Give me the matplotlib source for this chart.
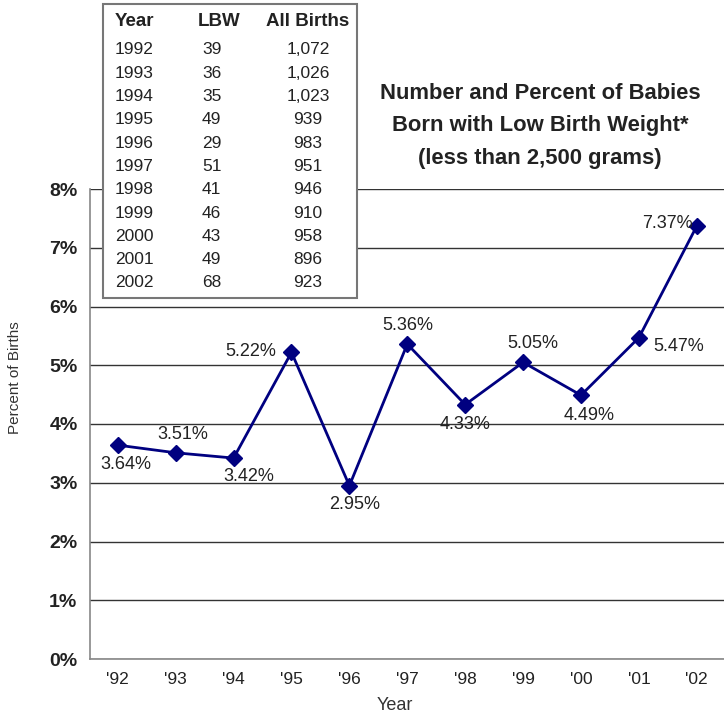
import matplotlib
matplotlib.use("Agg")
import matplotlib.pyplot as plt
from matplotlib.patches import Rectangle

plt.rcParams['font.family'] = ['Liberation Sans', 'DejaVu Sans']

# data
years = ['1992', '1993', '1994', '1995', '1996', '1997', '1998', '1999', '2000', '2001', '2002']
tick_labels = ["'92", "'93", "'94", "'95", "'96", "'97", "'98", "'99", "'00", "'01", "'02"]
lbw = ['39', '36', '35', '49', '29', '51', '41', '46', '43', '49', '68']
all_births = ['1,072', '1,026', '1,023', '939', '983', '951', '946', '910', '958', '896', '923']
pct = [3.64, 3.51, 3.42, 5.22, 2.95, 5.36, 4.33, 5.05, 4.49, 5.47, 7.37]

# label offsets in pixels
offs = [(8, -19), (7, 18), (15, -18), (-41, 1), (5, -19), (1, 19),
        (0, -20), (10, 19), (8, -20), (40, -9), (-29, 3)]

W, H = 724, 716
fig = plt.figure(figsize=(W / 100, H / 100), dpi=100)
ax = fig.add_axes([90 / W, 1 - 659 / H, (W - 90) / W, 470 / H])

x = list(range(len(pct)))
ax.plot(x, pct, color='#000080', lw=2, marker='D', ms=8, zorder=3)
for i, v in enumerate(pct):
    ax.annotate('%.2f%%' % v, (i, v), xytext=offs[i], textcoords='offset pixels',
                ha='center', va='center', fontsize=13, color='#222222')

ax.set_xlim(-0.48, 10.47)
ax.set_ylim(0, 8)
ax.set_yticks(range(9))
ax.set_yticklabels(['%d%%' % t for t in range(9)], fontsize=14, fontweight='bold', color='#222222')
ax.set_xticks(x)
ax.set_xticklabels(tick_labels, fontsize=12.5, color='#222222')
ax.tick_params(length=0, axis='both')
ax.tick_params(axis='y', pad=9)
ax.tick_params(axis='x', pad=9)
ax.grid(axis='y', color='#333333', lw=1)
ax.set_axisbelow(True)
for s in ['top', 'right']:
    ax.spines[s].set_visible(False)
for s in ['left', 'bottom']:
    ax.spines[s].set_color('#888888')
    ax.spines[s].set_linewidth(1.2)

fig.text(15 / W, 1 - 378 / H, 'Percent of Births', rotation=90, ha='center', va='center',
         fontsize=11, color='#333333')
fig.text(395 / W, 1 - 705 / H, 'Year', ha='center', va='center', fontsize=13, color='#333333')

fig.text(540 / W, 1 - 126 / H,
         'Number and Percent of Babies\nBorn with Low Birth Weight*\n(less than 2,500 grams)',
         ha='center', va='center', fontsize=15.8, fontweight='bold', color='#222222', linespacing=1.7)

# data table box
box = Rectangle((103 / W, 1 - 298 / H), 254 / W, 294 / H, transform=fig.transFigure,
                facecolor='white', edgecolor='#777777', lw=1.5, zorder=5)
fig.patches.append(box)
hy = 22
fig.text(115 / W, 1 - hy / H, 'Year', ha='left', va='center', fontsize=13.5, fontweight='bold', color='#222222', zorder=6)
fig.text(219 / W, 1 - hy / H, 'LBW', ha='center', va='center', fontsize=13.5, fontweight='bold', color='#222222', zorder=6)
fig.text(308 / W, 1 - hy / H, 'All Births', ha='center', va='center', fontsize=13.5, fontweight='bold', color='#222222', zorder=6)
for i in range(len(years)):
    yy = 1 - (50 + 23.3 * i) / H
    fig.text(115 / W, yy, years[i], ha='left', va='center', fontsize=12.5, color='#222222', zorder=6)
    fig.text(202 / W, yy, lbw[i], ha='left', va='center', fontsize=12.5, color='#222222', zorder=6)
    fig.text(308 / W, yy, all_births[i], ha='center', va='center', fontsize=12.5, color='#222222', zorder=6)

fig.savefig('out.png', dpi=100)
